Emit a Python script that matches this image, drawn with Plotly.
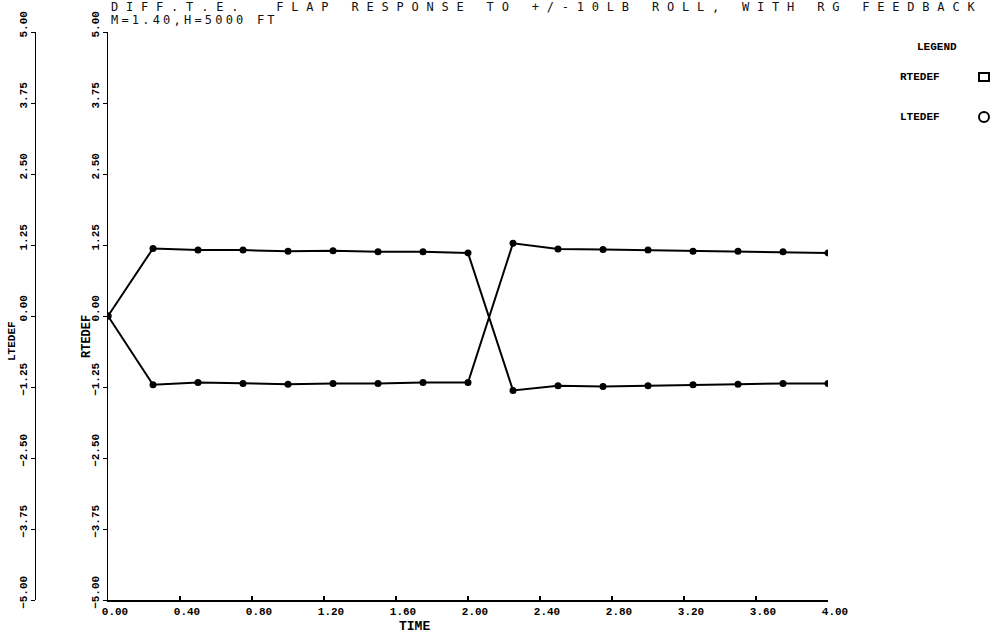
import plotly.graph_objects as go

# ---- data ----
time = [0.00, 0.25, 0.50, 0.75, 1.00, 1.25, 1.50, 1.75, 2.00,
        2.25, 2.50, 2.75, 3.00, 3.25, 3.50, 3.75, 4.00]
rtedef = [0.00, 1.19, 1.16, 1.16, 1.14, 1.15, 1.13, 1.13, 1.11,
          -1.31, -1.23, -1.24, -1.23, -1.21, -1.20, -1.19, -1.19]
ltedef = [0.00, -1.21, -1.17, -1.19, -1.20, -1.19, -1.19, -1.17, -1.17,
          1.28, 1.18, 1.17, 1.16, 1.14, 1.14, 1.13, 1.11]

x_ticks = [0.0, 0.4, 0.8, 1.2, 1.6, 2.0, 2.4, 2.8, 3.2, 3.6, 4.0]
y_ticks = [-5.0, -3.75, -2.5, -1.25, 0.0, 1.25, 2.5, 3.75, 5.0]

title_line1 = "DIFF.T.E.  FLAP RESPONSE TO +/-10LB ROLL, WITH RG FEEDBACK"
title_line2 = "M=1.40,H=5000 FT"

W, H = 1000, 633


def px(x):
    return x / W


def py(y):
    return 1 - y / H


TICKFONT = dict(family="Liberation Mono", size=11, color="black", weight="bold")

fig = go.Figure()
fig.add_trace(go.Scatter(x=time, y=rtedef, name="RTEDEF", mode="lines+markers",
                         line=dict(color="black", width=2),
                         marker=dict(symbol="circle", size=7, color="black"),
                         xaxis="x", yaxis="y", showlegend=False))
fig.add_trace(go.Scatter(x=time, y=ltedef, name="LTEDEF", mode="lines+markers",
                         line=dict(color="black", width=2),
                         marker=dict(symbol="circle", size=7, color="black"),
                         xaxis="x", yaxis="y2", showlegend=False))

yax_common = dict(range=[-5, 5], tickvals=y_ticks, tickformat=".2f",
                  showline=True, linecolor="black", linewidth=1,
                  ticks="outside", ticklen=4, tickwidth=1, tickcolor="black",
                  showgrid=False, zeroline=False, tickangle=-90,
                  tickfont=TICKFONT, ticklabelshift=-6, ticklabelstandoff=0,
                  automargin=False, domain=[py(600), py(32)])

fig.update_layout(
    width=W, height=H,
    margin=dict(l=0, r=0, t=0, b=0),
    paper_bgcolor="white", plot_bgcolor="white",
    xaxis=dict(domain=[px(108), px(828)], range=[0, 4], tickvals=x_ticks,
               tickformat=".2f", showline=True, linecolor="black", linewidth=2,
               ticks="inside", ticklen=4, tickwidth=1.5, tickcolor="black",
               showgrid=False, zeroline=False, tickfont=TICKFONT,
               ticklabelshift=7, ticklabelstandoff=0, automargin=False,
               anchor="y"),
    yaxis=dict(anchor="x", **yax_common),
    yaxis2=dict(overlaying="y", anchor="free", position=px(35), side="left",
                **yax_common),
)

ann = []
# title lines
ann.append(dict(x=px(110), y=py(6.5), xref="paper", yref="paper",
                xanchor="left", yanchor="middle", showarrow=False, borderpad=0,
                text='<span style="letter-spacing:7.8px">' + title_line1 + '</span>',
                font=dict(family="DejaVu Sans Mono", size=12, color="#111")))
ann.append(dict(x=px(110), y=py(20.5), xref="paper", yref="paper",
                xanchor="left", yanchor="middle", showarrow=False, borderpad=0,
                text='<span style="letter-spacing:3.2px">' + title_line2 + '</span>',
                font=dict(family="DejaVu Sans Mono", size=12, color="#111")))
# axis titles
ann.append(dict(x=px(414), y=py(626), xref="paper", yref="paper",
                xanchor="center", yanchor="middle", showarrow=False, borderpad=0,
                text="TIME", font=dict(family="Liberation Mono", size=13,
                                       color="black", weight="bold")))
ann.append(dict(x=px(12), y=py(341), xref="paper", yref="paper",
                xanchor="center", yanchor="middle", showarrow=False, textangle=-90,
                borderpad=0,
                text="LTEDEF", font=dict(family="Liberation Mono", size=11,
                                         color="black", weight="bold")))
ann.append(dict(x=px(87), y=py(337), xref="paper", yref="paper",
                xanchor="center", yanchor="middle", showarrow=False, textangle=-90,
                borderpad=0,
                text="RTEDEF", font=dict(family="Liberation Mono", size=12,
                                         color="black", weight="bold")))
# legend
LEGFONT = dict(family="Liberation Mono", size=11, color="black", weight="bold")
ann.append(dict(x=px(937), y=py(47), xref="paper", yref="paper",
                xanchor="center", yanchor="middle", showarrow=False,
                text="LEGEND", font=LEGFONT))
ann.append(dict(x=px(920), y=py(77), xref="paper", yref="paper",
                xanchor="center", yanchor="middle", showarrow=False,
                text="RTEDEF", font=LEGFONT))
ann.append(dict(x=px(920), y=py(117), xref="paper", yref="paper",
                xanchor="center", yanchor="middle", showarrow=False,
                text="LTEDEF", font=LEGFONT))
fig.update_layout(annotations=ann)

fig.update_layout(shapes=[
    dict(type="rect", xref="paper", yref="paper",
         x0=px(979), x1=px(989), y0=py(81), y1=py(73),
         line=dict(color="black", width=2)),
    dict(type="circle", xref="paper", yref="paper",
         x0=px(979), x1=px(989), y0=py(122), y1=py(112),
         line=dict(color="black", width=2)),
])

fig.write_html("out.html")
